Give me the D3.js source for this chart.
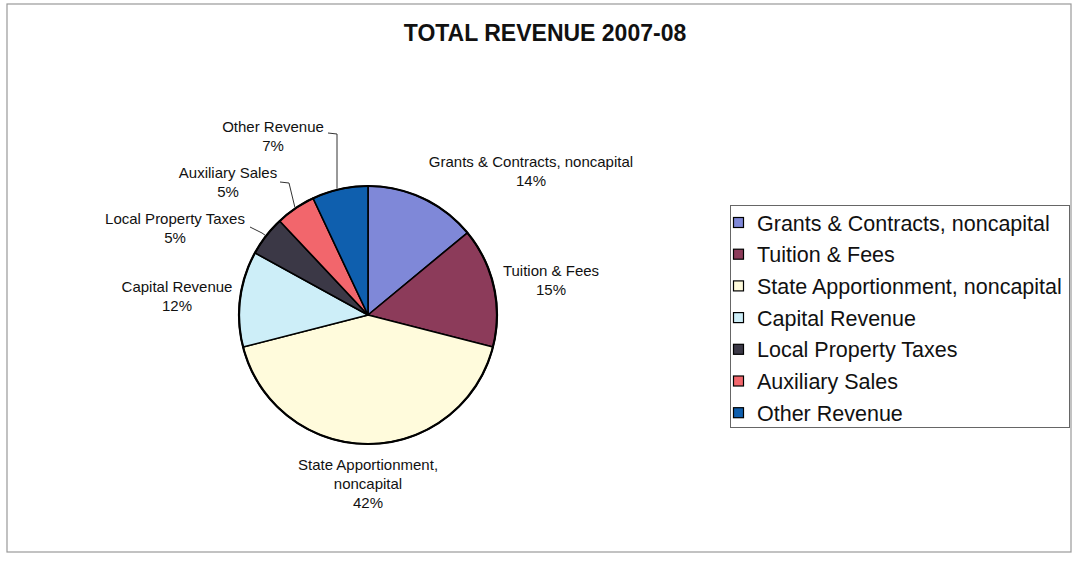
<!DOCTYPE html>
<html><head><meta charset="utf-8">
<script src="https://cdn.jsdelivr.net/npm/d3@7"></script>
<style>body{margin:0;background:#fff}svg{display:block;font-family:"Liberation Sans",Arial,sans-serif}</style>
</head><body><svg id="c" width="1072" height="565"></svg>
<script>
const categories = ["Grants & Contracts, noncapital","Tuition & Fees","State Apportionment, noncapital","Capital Revenue","Local Property Taxes","Auxiliary Sales","Other Revenue"];
const values = [14,15,42,12,5,5,7];
const colors = ["#7f88d8","#8c3b5a","#fffbdc","#cdeef8","#3b3846","#f2666c","#0f5fae"];
const labelLines = [["Grants & Contracts, noncapital"],["Tuition & Fees"],["State Apportionment,","noncapital"],["Capital Revenue"],["Local Property Taxes"],["Auxiliary Sales"],["Other Revenue"]];
// label layout: offsets of the label's first baseline from pie centre
const labelOffsets = [[163,-148],[183,-39],[0,155],[-191,-23],[-193,-91],[-140,-137],[-95,-183]];
// leader elbows (relative to centre), null = no leader
const leaderElbows = [null,null,null,null,[[-118,-88],[-106,-82]],[[-88,-133],[-79,-132]],[[-40,-182],[-31,-181],[-31,-150]]];
const title = "TOTAL REVENUE 2007-08";

const svg = d3.select("#c");
svg.append("rect").attr("x",7).attr("y",4).attr("width",1064).attr("height",548).attr("fill","#fff").attr("stroke","#999").attr("stroke-width",1.2);
svg.append("text").attr("x",545).attr("y",41).attr("text-anchor","middle").attr("font-size",23).attr("font-weight","bold").attr("fill","#111").text(title);

const cx=368, cy=315, R=129;
const pie = d3.pie().sort(null).value(d=>d)(values);
const arc = d3.arc().innerRadius(0).outerRadius(R);
const g = svg.append("g").attr("transform",`translate(${cx},${cy})`);
g.selectAll("path.s").data(pie).join("path").attr("class","s").attr("d",arc)
  .attr("fill",(d,i)=>colors[i]).attr("stroke","#000").attr("stroke-width",1.6).attr("stroke-linejoin","round");
g.append("circle").attr("r",R).attr("fill","none").attr("stroke","#000").attr("stroke-width",2.2);

// leader lines
pie.forEach((d,i)=>{
  const el = leaderElbows[i]; if(!el) return;
  const a = (d.startAngle+d.endAngle)/2;
  const last = el[el.length-1];
  // end on the pie rim along the final leader direction
  let p = [Math.sin(a)*(R+1), -Math.cos(a)*(R+1)];
  if(el.length>2){ const x=last[0]; p=[x,-Math.sqrt(R*R-x*x)-1]; }
  g.append("path").attr("d", d3.line()(el.concat([p]))).attr("fill","none").attr("stroke","#333").attr("stroke-width",1);
});

// labels
pie.forEach((d,i)=>{
  const [ox,oy]=labelOffsets[i];
  const t = g.append("text").attr("x",ox).attr("y",oy).attr("text-anchor","middle").attr("font-size",15).attr("fill","#111");
  const lines = labelLines[i].concat([values[i]+"%"]);
  lines.forEach((s,k)=>t.append("tspan").attr("x",ox).attr("dy",k?19:0).text(s));
});

// legend
svg.append("rect").attr("x",730.5).attr("y",205.5).attr("width",339).attr("height",222).attr("fill","#fff").attr("stroke","#666").attr("stroke-width",1);
const lg = svg.append("g");
categories.forEach((c,i)=>{
  const y = 223 + i*31.7;
  lg.append("rect").attr("x",733.5).attr("y",y-5.5).attr("width",10).attr("height",10).attr("fill",colors[i]).attr("stroke","#000").attr("stroke-width",1.2);
  lg.append("text").attr("x",757).attr("y",y+7.5).attr("font-size",21.5).attr("fill","#111").text(c);
});
</script></body></html>
